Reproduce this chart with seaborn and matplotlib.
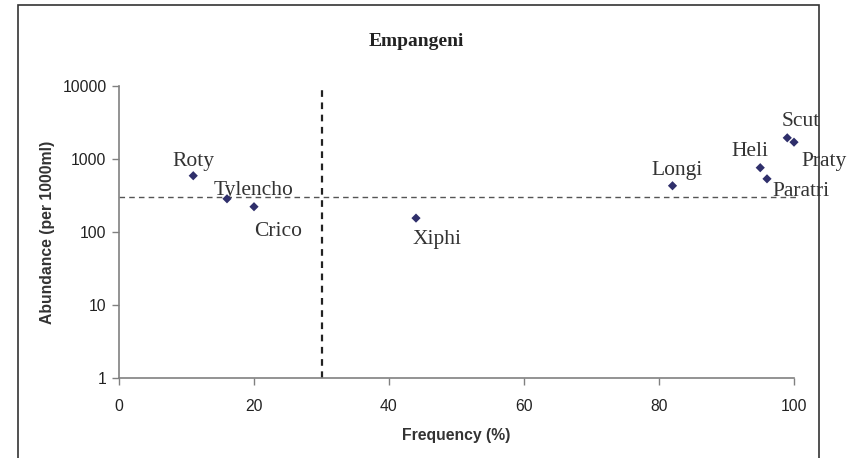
import matplotlib
matplotlib.use("Agg")
import matplotlib.pyplot as plt
import seaborn as sns
import pandas as pd
from matplotlib.patches import Rectangle

# Data
taxa = ["Roty", "Tylencho", "Crico", "Xiphi", "Longi", "Heli", "Paratri", "Scut", "Praty"]
frequency = [11, 16, 20, 44, 82, 95, 96, 99, 100]
abundance = [590, 285, 222, 155, 430, 760, 535, 1950, 1700]
x_ticks = [0, 20, 40, 60, 80, 100]
y_ticks = [1, 10, 100, 1000, 10000]
freq_threshold = 30
abund_threshold = 300

# label offsets in pixels (left edge, baseline)
offsets = {"Roty": (-21, 10), "Tylencho": (-13, 4), "Crico": (0, -29), "Xiphi": (-3, -26),
           "Longi": (-21, 11), "Heli": (-29, 12), "Paratri": (5, -17), "Scut": (-6, 12),
           "Praty": (7, -24)}

df = pd.DataFrame({"taxon": taxa, "freq": frequency, "abund": abundance})

sns.set_theme(style="white")
plt.rcParams["font.family"] = ["Liberation Sans", "DejaVu Sans"]

W, H = 857, 458
fig = plt.figure(figsize=(W / 100, H / 100), dpi=100)
ax = fig.add_axes([119 / W, 1 - 378 / H, (794 - 119) / W, (378 - 86) / H])

sns.scatterplot(data=df, x="freq", y="abund", ax=ax, marker="D", s=22,
                color="#2f2f6b", edgecolor="none", zorder=5, clip_on=False)

ax.set_yscale("log")
ax.set_xlim(0, 100)
ax.set_ylim(1, 10000)
ax.set_xticks(x_ticks)
ax.set_xticklabels([str(v) for v in x_ticks])
ax.set_yticks(y_ticks)
ax.set_yticklabels([str(v) for v in y_ticks])
ax.minorticks_off()
ax.tick_params(axis="both", direction="out", length=5, width=1, color="#808080",
               labelsize=11.3, labelcolor="#222222", pad=4, bottom=True, left=True)
ax.tick_params(axis="x", pad=10)

for side in ["top", "right"]:
    ax.spines[side].set_visible(False)
for side in ["left", "bottom"]:
    ax.spines[side].set_color("#808080")
    ax.spines[side].set_linewidth(1.2)

# threshold lines
ax.plot([0, 100.4], [abund_threshold, abund_threshold], linestyle=(0, (4, 3)),
        color="#555555", linewidth=1.0, clip_on=False)
ax.plot([freq_threshold, freq_threshold], [1, 10000], linestyle=(0, (3, 2.5)),
        color="#222222", linewidth=1.6, clip_on=False)

for t, fx, ay in zip(taxa, frequency, abundance):
    dx, dy = offsets[t]
    ax.annotate(t, (fx, ay), xytext=(dx, dy), textcoords="offset pixels",
                ha="left", va="baseline", fontsize=15.5, color="#333333",
                family=["Liberation Serif", "DejaVu Serif"], annotation_clip=False)

ax.set_xlabel("Frequency (%)", fontsize=11.3, fontweight="bold", color="#333333", labelpad=10)
ax.set_ylabel("Abundance (per 1000ml)", fontsize=11.3, fontweight="bold", color="#333333", labelpad=5)

fig.text(416 / W, 1 - 42 / H, "Empangeni", ha="center", va="center", fontsize=14,
         fontweight="bold", color="#222222", family=["Liberation Serif", "DejaVu Serif"])

# outer chart frame
fig.patches.append(Rectangle((18 / W, -0.1), (819 - 18) / W, 1.1 - 5 / H,
                             transform=fig.transFigure, fill=False,
                             edgecolor="#333333", linewidth=1.2))

fig.savefig("out.png", dpi=100)
